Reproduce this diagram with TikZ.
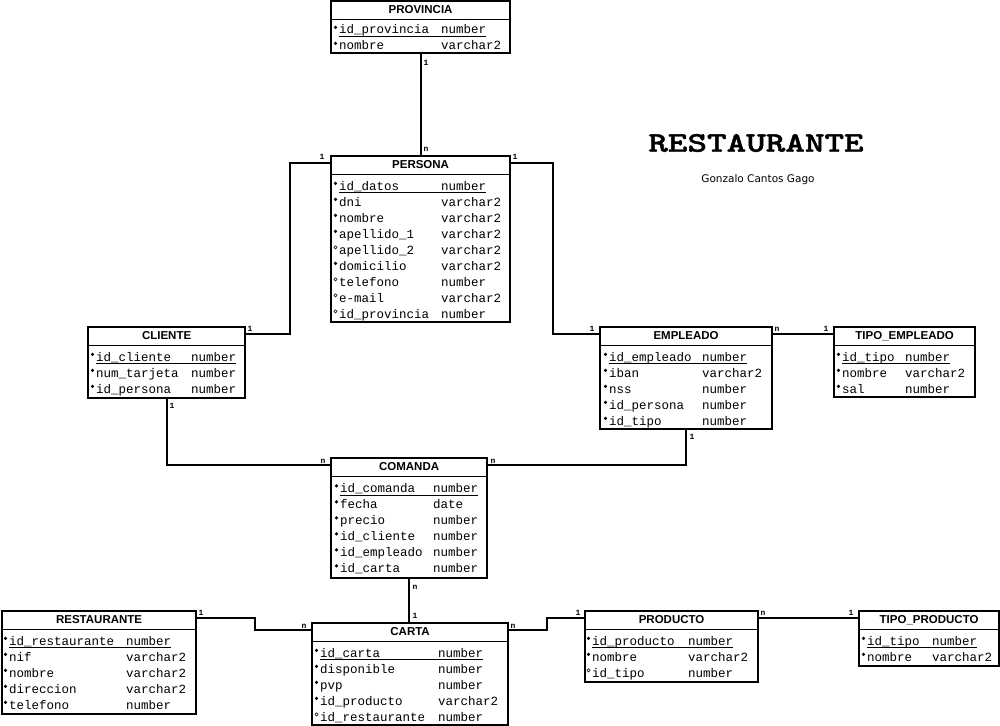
\documentclass[tikz,border=0pt]{standalone}
\usepackage{fontspec}
\usepackage{graphicx}
\setmainfont{Liberation Sans}
\newfontfamily\monof{Liberation Mono}
\newfontfamily\subf{DejaVu Sans}
\newfontfamily\titlef[Extension=.otf, FakeBold=1.2]{lmmonolt10-bold}
\usetikzlibrary{calc}

\tikzset{
  ent/.style={draw, line width=2.2pt, inner sep=0pt, anchor=north west, fill=white},
  hdr/.style={font=\bfseries\fontsize{11.5}{11.5}\selectfont, inner sep=0pt},
  attr/.style={font=\monof\fontsize{12.5}{12.5}\selectfont, inner sep=0pt, anchor=base west},
  conn/.style={line width=2.2pt},
  card/.style={font=\monof\bfseries\fontsize{8}{8}\selectfont, inner sep=0pt},
  pkline/.style={line width=0.9pt},
}

% entity box: name, x, y, w, h, title
\newcommand\entity[6]{%
  \node[ent, minimum width=#4pt, minimum height=#5pt] (#1) at (#2,#3) {};
  \draw[line width=1.4pt] ($(#1.north west)+(0,19.5)$) -- ($(#1.north east)+(0,19.5)$);
  \node[hdr] (#1-title) at ($(#1.north)+(0,10)$) {#6};
}
\newcommand\mand[2]{\fill (#1-3.5,#2-8.3) -- ++(1.7,1.7) -- ++(-1.7,1.7) -- ++(-1.7,-1.7) -- cycle;}
\newcommand\opt[2]{\draw[line width=0.5pt] (#1-3.5,#2-8.3) -- ++(1.6,1.6) -- ++(-1.6,1.6) -- ++(-1.6,-1.6) -- cycle;}
% row: namex, typex, baseline, marker, name, type
\newcommand\arow[6]{%
  \node[attr] at (#1,#3) {#5};
  \node[attr] at (#2,#3) {#6};
  #4{#1}{#3}%
}
\newcommand\pkrow[6]{%
  \node[attr] at (#1,#3) {#5};
  \node[attr] (pk) at (#2,#3) {#6};
  #4{#1}{#3}%
  \draw[pkline] (#1,#3+2.5) -- ($(pk.base east)+(0,2.5)$);
}

\begin{document}
\begin{tikzpicture}[x=1pt,y=-1pt]
\useasboundingbox[fill=white] (0,0) rectangle (1000,725);

% ---------- entities ----------
\entity{provincia}{330}{0}{179}{52}{PROVINCIA}
\pkrow{339}{441}{34}{\mand}{id\_provincia}{number}
\arow{339}{441}{50}{\mand}{nombre}{varchar2}

\entity{persona}{330}{155}{179}{166}{PERSONA}
\pkrow{339}{441}{190}{\mand}{id\_datos}{number}
\arow{339}{441}{206}{\mand}{dni}{varchar2}
\arow{339}{441}{222}{\mand}{nombre}{varchar2}
\arow{339}{441}{238}{\mand}{apellido\_1}{varchar2}
\arow{339}{441}{254}{\opt}{apellido\_2}{varchar2}
\arow{339}{441}{270}{\mand}{domicilio}{varchar2}
\arow{339}{441}{286}{\opt}{telefono}{number}
\arow{339}{441}{302}{\opt}{e-mail}{varchar2}
\arow{339}{441}{318}{\opt}{id\_provincia}{number}

\entity{cliente}{87}{326}{157}{71}{CLIENTE}
\pkrow{96}{191}{361}{\mand}{id\_cliente}{number}
\arow{96}{191}{377}{\mand}{num\_tarjeta}{number}
\arow{96}{191}{393}{\mand}{id\_persona}{number}

\entity{empleado}{599}{326}{172}{102}{EMPLEADO}
\pkrow{609}{702}{361}{\mand}{id\_empleado}{number}
\arow{609}{702}{377}{\mand}{iban}{varchar2}
\arow{609}{702}{393}{\mand}{nss}{number}
\arow{609}{702}{409}{\mand}{id\_persona}{number}
\arow{609}{702}{425}{\mand}{id\_tipo}{number}

\entity{tipoemp}{833}{326}{141}{70}{TIPO\_EMPLEADO}
\pkrow{842}{905}{361}{\mand}{id\_tipo}{number}
\arow{842}{905}{377}{\mand}{nombre}{varchar2}
\arow{842}{905}{393}{\mand}{sal}{number}

\entity{comanda}{330}{457}{156}{120}{COMANDA}
\pkrow{340}{433}{492.5}{\mand}{id\_comanda}{number}
\arow{340}{433}{508.5}{\mand}{fecha}{date}
\arow{340}{433}{524.5}{\mand}{precio}{number}
\arow{340}{433}{540.5}{\mand}{id\_cliente}{number}
\arow{340}{433}{556.5}{\mand}{id\_empleado}{number}
\arow{340}{433}{572.5}{\mand}{id\_carta}{number}

\entity{restaurante}{1}{610}{194}{103}{RESTAURANTE}
\pkrow{9}{126}{645}{\mand}{id\_restaurante}{number}
\arow{9}{126}{661}{\mand}{nif}{varchar2}
\arow{9}{126}{677}{\mand}{nombre}{varchar2}
\arow{9}{126}{693}{\mand}{direccion}{varchar2}
\arow{9}{126}{709}{\mand}{telefono}{number}

\entity{carta}{311}{622}{196}{102}{CARTA}
\pkrow{320}{438}{657}{\mand}{id\_carta}{number}
\arow{320}{438}{673}{\mand}{disponible}{number}
\arow{320}{438}{689}{\mand}{pvp}{number}
\arow{320}{438}{705}{\mand}{id\_producto}{varchar2}
\arow{320}{438}{721}{\opt}{id\_restaurante}{number}

\entity{producto}{584}{610}{173}{71}{PRODUCTO}
\pkrow{592}{688}{645}{\mand}{id\_producto}{number}
\arow{592}{688}{661}{\mand}{nombre}{varchar2}
\arow{592}{688}{677}{\opt}{id\_tipo}{number}

\entity{tipoprod}{858}{610}{140}{55}{TIPO\_PRODUCTO}
\pkrow{867}{932}{645}{\mand}{id\_tipo}{number}
\arow{867}{932}{661}{\mand}{nombre}{varchar2}

% ---------- title ----------
\node[inner sep=0pt] (title) at (756,143) {\scalebox{1.13}[0.86]{\titlef\fontsize{33}{33}\selectfont RESTAURANTE}};
\node[font=\subf\fontsize{10.5}{10.5}\selectfont, inner sep=0pt] (author) at (758,180) {Gonzalo Cantos Gago};

% ---------- connectors ----------
\draw[conn] (provincia.south) -- (persona.north);
\draw[conn] ($(persona.north west)+(0,8)$) -| ($(cliente.north east)+(44,8)$) -- ($(cliente.north east)+(0,8)$);
\draw[conn] ($(persona.north east)+(0,8)$) -| ($(empleado.north west)+(-46,8)$) -- ($(empleado.north west)+(0,8)$);
\draw[conn] ($(empleado.north east)+(0,8)$) -- ($(tipoemp.north west)+(0,8)$);
\draw[conn] (cliente.south) |- ($(comanda.north west)+(0,8)$);
\draw[conn] (empleado.south) |- ($(comanda.north east)+(0,8)$);
\draw[conn] (comanda.south) -- (comanda.south |- carta.north);
\draw[conn] ($(restaurante.north east)+(0,8)$) -- ++(58,0) |- ($(carta.north west)+(0,8)$);
\draw[conn] ($(carta.north east)+(0,8)$) -- ++(38,0) |- ($(producto.north west)+(0,8)$);
\draw[conn] ($(producto.north east)+(0,8)$) -- ($(tipoprod.north west)+(0,8)$);

% ---------- cardinalities ----------
\node[card] at (426,63) {1};
\node[card] at (426,149) {n};
\node[card] at (322,157) {1};
\node[card] at (250,329) {1};
\node[card] at (515,157) {1};
\node[card] at (592,329) {1};
\node[card] at (777,329) {n};
\node[card] at (826,329) {1};
\node[card] at (172,406) {1};
\node[card] at (323,461) {n};
\node[card] at (692,437) {1};
\node[card] at (493,461) {n};
\node[card] at (415,587) {n};
\node[card] at (415,616) {1};
\node[card] at (201,613) {1};
\node[card] at (304,626) {n};
\node[card] at (513,626) {n};
\node[card] at (578,613) {1};
\node[card] at (763,613) {n};
\node[card] at (851,613) {1};
\end{tikzpicture}
\end{document}
